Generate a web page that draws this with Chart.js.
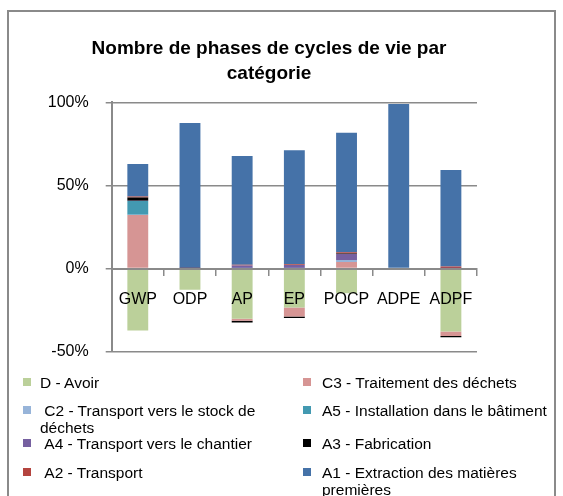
<!DOCTYPE html>
<html>
<head>
<meta charset="utf-8">
<script src="https://cdn.jsdelivr.net/npm/chart.js@4.4.0/dist/chart.umd.min.js"></script>
<style>
  body { margin: 0; background: #fff; font-family: "Liberation Sans", Arial, sans-serif; }
  #frame { position: absolute; left: 7px; top: 10px; width: 549px; height: 520px; border: 2px solid #8a8a8a; box-sizing: border-box; }
  #title { position: absolute; left: 0; top: 34.5px; width: 538px; text-align: center; font-size: 19px; font-weight: bold; line-height: 25px; color: #000; }
  #wrap { position: absolute; left: 0; top: 0; width: 563px; height: 380px; }
  #legend { position: absolute; left: 0; top: 0; width: 563px; height: 496px; pointer-events: none; }
  .box { position: absolute; width: 8px; height: 8px; }
  .txt { position: absolute; font-size: 15.5px; line-height: 17px; color: #000; white-space: pre-wrap; }
</style>
</head>
<body>
<div id="frame"></div>
<div id="wrap"><canvas id="myChart"></canvas></div>
<div id="title">Nombre de phases de cycles de vie par<br>catégorie</div>
<div id="legend"></div>
<script>
const categories = ["GWP", "ODP", "AP", "EP", "POCP", "ADPE", "ADPF"];

const seriesNames = [
    "D - Avoir",
    "C3 - Traitement des déchets",
    " C2 - Transport vers le stock de déchets",
    "A5 - Installation dans le bâtiment",
    " A4 - Transport vers le chantier",
    "A3 - Fabrication",
    " A2 - Transport",
    "A1 - Extraction des matières premières"
];

// percentages, one value per category
const dAvoir      = [-37.3, -12.8, -30.2, -23.4, -14.8, -0.3, -37.9];
const c3Dechets   = [32.2, 0, -1.2, -5.4, 4.0, -0.5, -2.6];
const c2Transport = [0.2, 0, 0.2, 0.2, 1.2, 0, 0];
const a5Install   = [8.2, 0, 0, 0, 0, 0, 0];
const a4Chantier  = [0.2, 0, 1.6, 1.9, 3.6, 0, 0.4];
const a3Fabric    = [2.0, 0, -1.0, -1.0, 0.2, 0, -0.8];
const a2Transport = [0.6, 0.2, 0.5, 0.5, 0.8, 0, 0.8];
const a1Extract   = [19.5, 87.4, 65.4, 68.5, 71.9, 99.0, 58.1];

const yTicks = [-50, 0, 50, 100];

const seriesData = [dAvoir, c3Dechets, c2Transport, a5Install, a4Chantier, a3Fabric, a2Transport, a1Extract];
const seriesColors = ["#BBD09A", "#D69594", "#97B4D9", "#4399B1", "#7660A0", "#000000", "#B4443F", "#4572A8"];

const gridGray = "#8a8a8a";
const fontFam = '"Liberation Sans", Arial, sans-serif';

let datasets = [];
for (let i = 0; i < seriesNames.length; i++) {
    datasets.push({
        label: seriesNames[i].trim(),
        data: seriesData[i],
        backgroundColor: seriesColors[i],
        borderWidth: 0,
        categoryPercentage: 1,
        barPercentage: 0.4
    });
}

let ctx = document.getElementById("myChart");
let myChart = new Chart(ctx, {
    type: "bar",
    data: {
        labels: categories,
        datasets: datasets
    },
    options: {
        responsive: true,
        maintainAspectRatio: false,
        animation: false,
        layout: { padding: { left: 40, right: 86, top: 102.3, bottom: 28.3 } },
        plugins: {
            legend: { display: false },
            tooltip: { enabled: false },
            title: { display: false }
        },
        scales: {
            x: {
                stacked: true,
                position: { y: 0 },
                grid: { display: true, drawOnChartArea: false, drawTicks: true, tickLength: 6, color: gridGray, lineWidth: 1.5, z: 1 },
                border: { display: true, color: gridGray, width: 2, z: 1 },
                ticks: { color: "#000", padding: 15, z: 1, font: { family: fontFam, size: 16 } }
            },
            y: {
                stacked: true,
                min: -50,
                max: 100,
                afterFit: function (scale) { scale.width = 71.7; },
                afterBuildTicks: function (scale) { scale.ticks = yTicks.map(v => ({ value: v })); },
                grid: { color: gridGray, lineWidth: 1.5, tickLength: 6 },
                border: { display: true, color: gridGray, width: 2 },
                ticks: {
                    color: "#000",
                    padding: 17,
                    font: { family: fontFam, size: 16 },
                    callback: function (v) { return v + "%"; }
                }
            }
        }
    }
});

/* Legend, two columns, filled row by row */
let legendBox = document.getElementById("legend");
const rowCenters = [382, 410, 443, 472];
const colBoxX = [23, 303];
const colTextX = [40, 322];
const colTextW = [228, 234];
for (let i = 0; i < seriesNames.length; i++) {
    let row = Math.floor(i / 2);
    let col = i % 2;
    let sq = document.createElement("div");
    sq.classList = "box";
    sq.style.left = colBoxX[col] + "px";
    sq.style.top = (rowCenters[row] - 4) + "px";
    sq.style.background = seriesColors[i];
    legendBox.append(sq);

    let t = document.createElement("div");
    t.classList = "txt";
    t.style.left = colTextX[col] + "px";
    t.style.top = (rowCenters[row] - 8.5) + "px";
    t.style.width = colTextW[col] + "px";
    t.textContent = seriesNames[i];
    legendBox.append(t);
}
</script>
</body>
</html>
